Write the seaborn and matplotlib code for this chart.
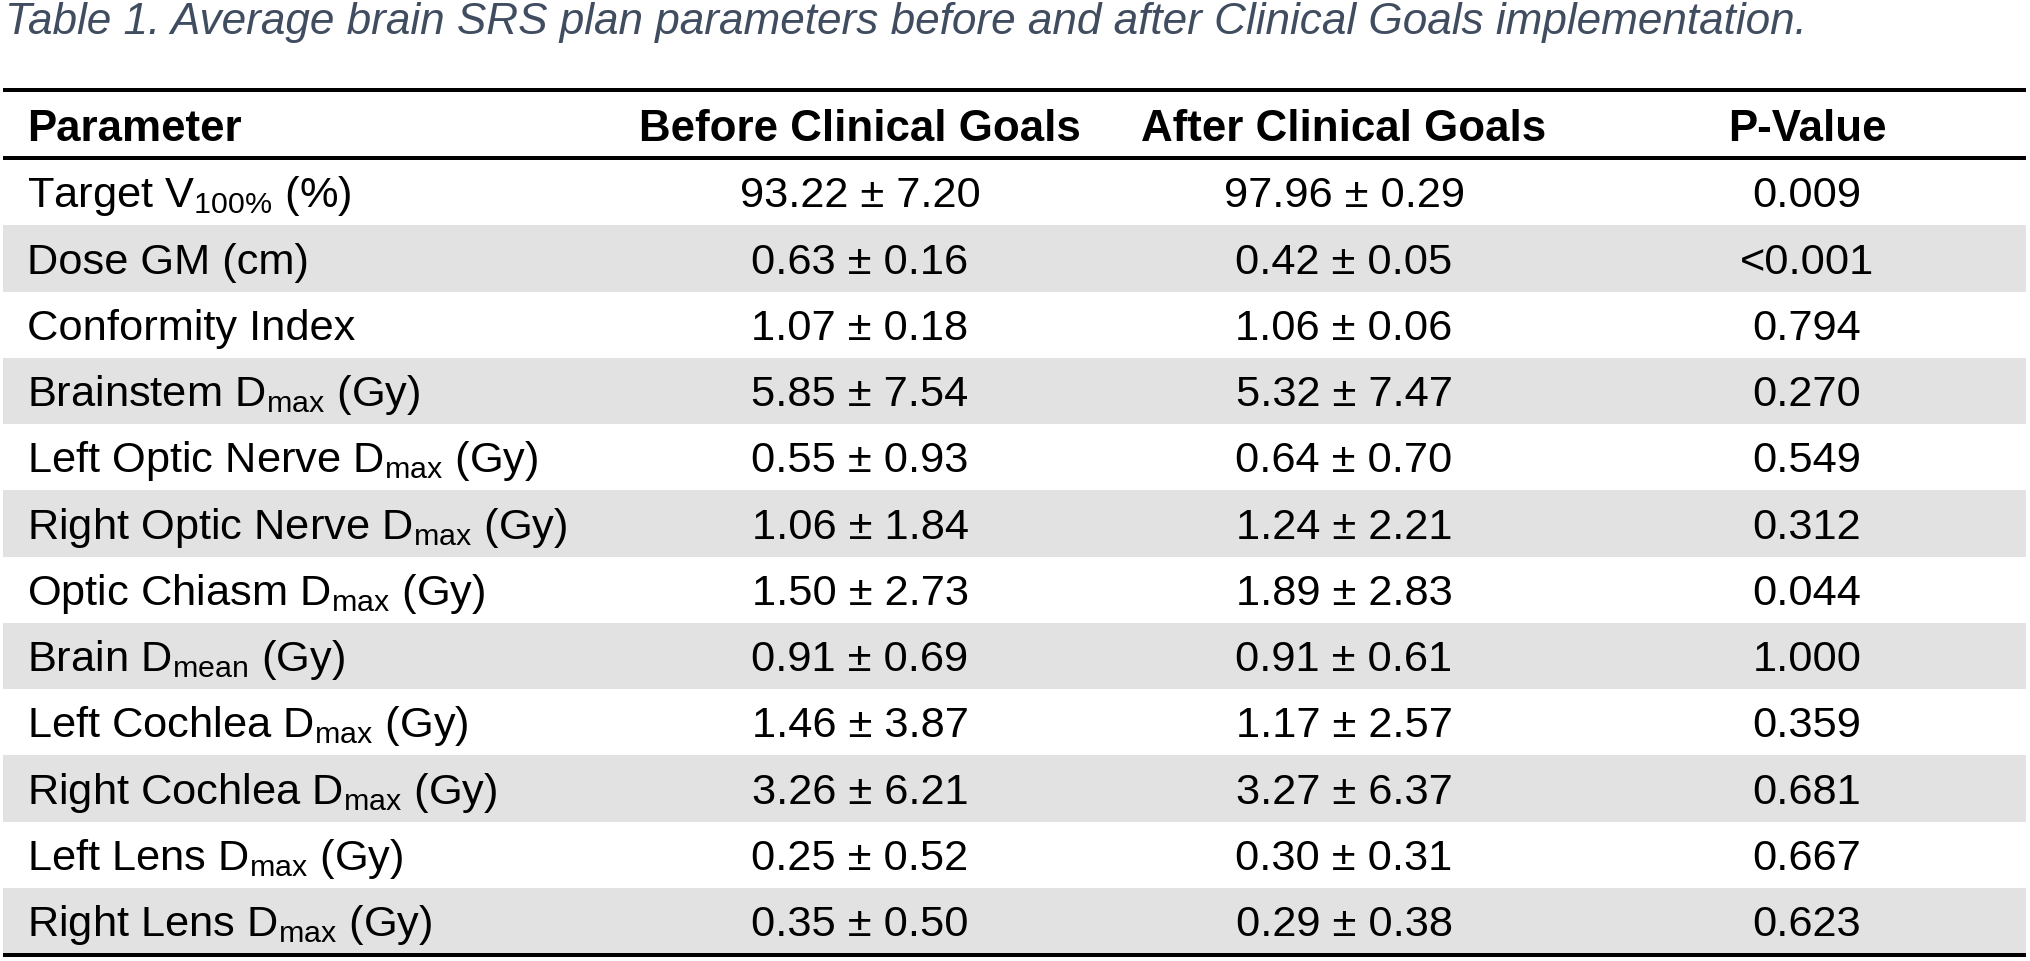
import matplotlib
matplotlib.use("Agg")
import matplotlib.pyplot as plt
import matplotlib.transforms as mtransforms
from matplotlib.colors import ListedColormap
from matplotlib.lines import Line2D
import numpy as np
import seaborn as sns

# ---------------- data ----------------
title = "Table 1. Average brain SRS plan parameters before and after Clinical Goals implementation."
headers = ["Parameter", "Before Clinical Goals", "After Clinical Goals", "P-Value"]
parameters = [
    r"Target V$_{100\%}$ (%)",
    "Dose GM (cm)",
    "Conformity Index",
    r"Brainstem D$_{max}$ (Gy)",
    r"Left Optic Nerve D$_{max}$ (Gy)",
    r"Right Optic Nerve D$_{max}$ (Gy)",
    r"Optic Chiasm D$_{max}$ (Gy)",
    r"Brain D$_{mean}$ (Gy)",
    r"Left Cochlea D$_{max}$ (Gy)",
    r"Right Cochlea D$_{max}$ (Gy)",
    r"Left Lens D$_{max}$ (Gy)",
    r"Right Lens D$_{max}$ (Gy)",
]
before = ["93.22 ± 7.20", "0.63 ± 0.16", "1.07 ± 0.18", "5.85 ± 7.54", "0.55 ± 0.93",
          "1.06 ± 1.84", "1.50 ± 2.73", "0.91 ± 0.69", "1.46 ± 3.87", "3.26 ± 6.21",
          "0.25 ± 0.52", "0.35 ± 0.50"]
after = ["97.96 ± 0.29", "0.42 ± 0.05", "1.06 ± 0.06", "5.32 ± 7.47", "0.64 ± 0.70",
         "1.24 ± 2.21", "1.89 ± 2.83", "0.91 ± 0.61", "1.17 ± 2.57", "3.27 ± 6.37",
         "0.30 ± 0.31", "0.29 ± 0.38"]
p_values = ["0.009", "<0.001", "0.794", "0.270", "0.549", "0.312", "0.044", "1.000",
            "0.359", "0.681", "0.667", "0.623"]

# ---------------- style ----------------
sns.set_theme(style="white")
plt.rcParams["font.family"] = ["Liberation Sans", "DejaVu Sans"]
plt.rcParams["mathtext.fontset"] = "custom"
plt.rcParams["mathtext.rm"] = "Liberation Sans"
plt.rcParams["mathtext.it"] = "Liberation Sans:italic"
plt.rcParams["mathtext.bf"] = "Liberation Sans:bold"
plt.rcParams["mathtext.default"] = "regular"

W, H, DPI = 2030, 962, 100
FS = 31.2
FS_HEAD = 31.6
FS_TITLE = 31.8
fig = plt.figure(figsize=(W / DPI, H / DPI), dpi=DPI)
fig.patch.set_facecolor("white")

left, right = 3, 2026
body_top, body_bot = 160, 955
ax = fig.add_axes([left / W, 1 - body_bot / H, (right - left) / W, (body_bot - body_top) / H])

n = len(parameters)
stripes = np.array([[i % 2] for i in range(n)])
sns.heatmap(stripes, ax=ax, cmap=ListedColormap(["white", "#e2e2e2"]), vmin=0, vmax=1,
            cbar=False, xticklabels=False, yticklabels=False)
ax.set_axis_off()

trans = mtransforms.blended_transform_factory(fig.transFigure, ax.transData)
col_x = [27, 860, 1344, 1807]
base_off = 0.715

for i in range(n):
    y = i + base_off
    ax.text(col_x[0] / W, y, parameters[i], transform=trans, ha="left", va="baseline",
            fontsize=FS, color="black")
    ax.text(col_x[1] / W, y, before[i], transform=trans, ha="center", va="baseline",
            fontsize=FS, color="black")
    ax.text(col_x[2] / W, y, after[i], transform=trans, ha="center", va="baseline",
            fontsize=FS, color="black")
    ax.text(col_x[3] / W, y, p_values[i], transform=trans, ha="center", va="baseline",
            fontsize=FS, color="black")

# header
hb = 141
fig.text(col_x[0] / W, 1 - hb / H, headers[0], ha="left", va="baseline",
         fontsize=FS_HEAD, fontweight="bold", color="black")
for k in range(1, 4):
    fig.text(col_x[k] / W, 1 - hb / H, headers[k], ha="center", va="baseline",
             fontsize=FS_HEAD, fontweight="bold", color="black")

# rules
lw = 4 * 72 / DPI
for yy in (91, 159, 956):
    fig.add_artist(Line2D([left / W, right / W], [1 - yy / H, 1 - yy / H], lw=lw,
                          color="black", transform=fig.transFigure, solid_capstyle="butt"))

# title
fig.text(5 / W, 1 - 34 / H, title, ha="left", va="baseline", fontsize=FS_TITLE,
         fontstyle="italic", color="#404c5f")

fig.savefig("out.png", dpi=DPI, facecolor="white")
